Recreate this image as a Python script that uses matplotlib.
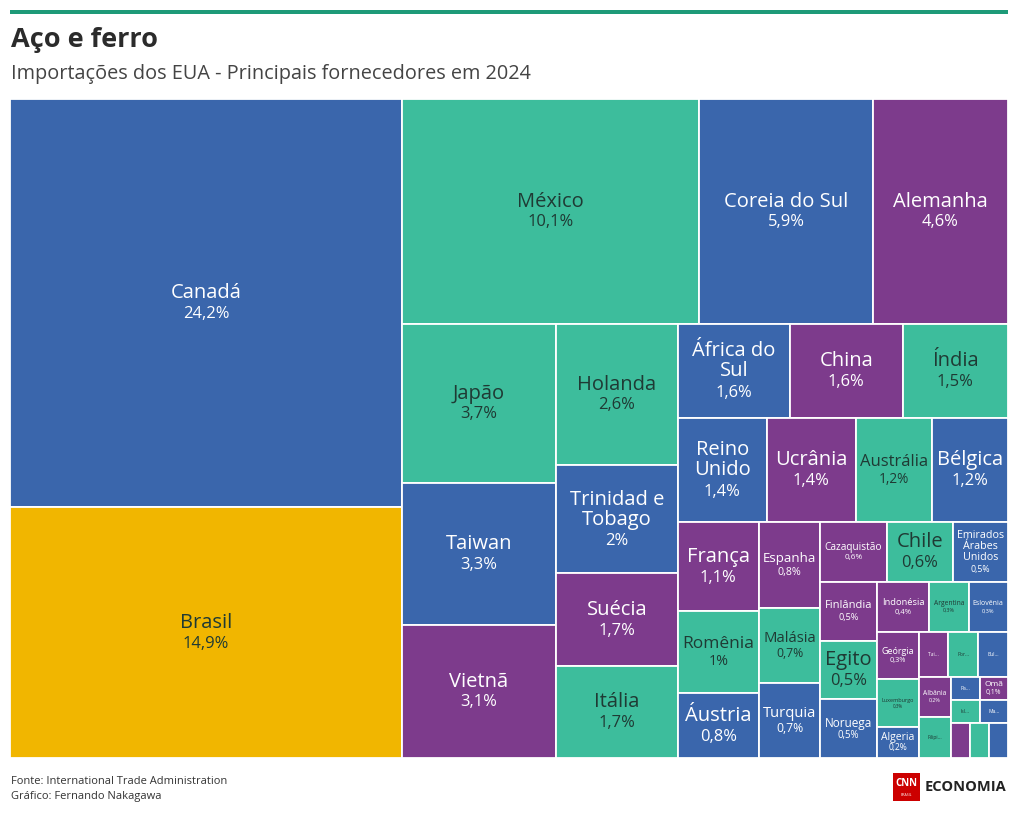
import matplotlib
matplotlib.use("Agg")
import matplotlib.pyplot as plt
from matplotlib.patches import Rectangle
from matplotlib.font_manager import FontProperties
import numpy as np

# Data: share of US steel & iron imports, 2024 (%)
countries = ["Canadá", "Brasil", "México", "Coreia do Sul", "Alemanha", "Japão", "Taiwan", "Vietnã",
             "Holanda", "Trinidad e Tobago", "Suécia", "Itália", "África do Sul", "China", "Índia",
             "Reino Unido", "Ucrânia", "Austrália", "Bélgica", "França", "Romênia", "Áustria",
             "Espanha", "Malásia", "Turquia", "Cazaquistão", "Chile", "Emirados Árabes Unidos",
             "Finlândia", "Egito", "Noruega", "Indonésia", "Argentina", "Eslovênia", "Geórgia",
             "Luxemburgo", "Algeria", "Tai...", "Por...", "Bul...", "Albânia", "Filipi...",
             "Pa...", "Omã", "Isl...", "Ma...", "", "", ""]
shares = [24.2, 14.9, 10.1, 5.9, 4.6, 3.7, 3.3, 3.1,
          2.6, 2.0, 1.7, 1.7, 1.6, 1.6, 1.5,
          1.4, 1.4, 1.2, 1.2, 1.1, 1.0, 0.8,
          0.8, 0.7, 0.7, 0.6, 0.6, 0.5,
          0.5, 0.5, 0.5, 0.4, 0.3, 0.3, 0.3,
          0.3, 0.2, 0.2, 0.2, 0.2, 0.2, 0.2,
          0.1, 0.1, 0.1, 0.1, 0.1, 0.1, 0.1]
highlight = "Brasil"

BLUE, PURPLE, TEAL, YELLOW = "#3a66ac", "#7d3b8c", "#3dbd9c", "#f1b600"
palette = [BLUE, PURPLE, TEAL]
DARK_TEXT = "#1f3a34"
FONT = "Open Sans"


def squarify(values, x0, y0, x1, y1, ratio=1.0):
    # same row logic as d3.treemapSquarify
    rects = []
    n = len(values)
    total = float(sum(values))
    i0 = i1 = 0
    while i0 < n:
        dx, dy = x1 - x0, y1 - y0
        s = values[i1]
        i1 += 1
        mn = mx = s
        alpha = max(dy / dx, dx / dy) / (total * ratio)
        beta = s * s * alpha
        min_ratio = max(mx / beta, beta / mn)
        while i1 < n:
            v = values[i1]
            s += v
            mn, mx = min(mn, v), max(mx, v)
            beta = s * s * alpha
            new_ratio = max(mx / beta, beta / mn)
            if new_ratio > min_ratio:
                s -= v
                break
            min_ratio = new_ratio
            i1 += 1
        row = values[i0:i1]
        if dx < dy:
            yy = y0 + dy * s / total
            xx = x0
            for v in row:
                w = dx * v / s
                rects.append((xx, y0, w, yy - y0))
                xx += w
            y0 = yy
        else:
            xx = x0 + dx * s / total
            yy = y0
            for v in row:
                h = dy * v / s
                rects.append((x0, yy, xx - x0, h))
                yy += h
            x0 = xx
        total -= s
        i0 = i1
    return rects


W, H = 998, 659
fig = plt.figure(figsize=(10.2, 8.14), dpi=100)
ax = fig.add_axes([10 / 1020, (814 - 758) / 814, W / 1020, H / 814])
ax.set_xlim(0, W)
ax.set_ylim(H, 0)
ax.axis("off")

renderer = fig.canvas.get_renderer()


def text_w(s, size):
    w, h, d = renderer.get_text_width_height_descent(s, FontProperties(family=FONT, size=size), ismath=False)
    return w


def wrap(name, size, maxw):
    lines, cur = [], ""
    for word in name.split():
        t = word if not cur else cur + " " + word
        if not cur or text_w(t, size) <= maxw:
            cur = t
        else:
            lines.append(cur)
            cur = word
    lines.append(cur)
    return lines


def fmt(v):
    s = f"{v:.1f}".rstrip("0").rstrip(".")
    return s.replace(".", ",") + "%"


rects = squarify(shares, 0, 0, W, H)

for i, (name, val, (x, y, w, h)) in enumerate(zip(countries, shares, rects)):
    color = YELLOW if name == highlight else palette[i % 3]
    ax.add_patch(Rectangle((x, y), w, h, facecolor=color, edgecolor="white", linewidth=1.3))
    if not name:
        continue
    tcolor = DARK_TEXT if color in (TEAL, YELLOW) else "white"
    cx, cy = x + w / 2, y + h / 2
    maxw, maxh = w - 8, h - 6
    if name.endswith("..."):
        ax.text(cx, cy, name, ha="center", va="center", fontsize=3.6, family=FONT, color=tcolor)
        continue
    placed = False
    for size in np.arange(14.5, 3.4, -0.25):
        px = size * 100 / 72
        lines = wrap(name, size, maxw)
        pct = fmt(val)
        name_h = len(lines) * px * 1.1
        pct_h = 0.82 * px * 1.15
        if max(text_w(l, size) for l in lines) <= maxw and text_w(pct, size * 0.82) <= maxw \
                and name_h + pct_h <= maxh:
            top = cy - (name_h + pct_h) / 2
            ax.text(cx, top + name_h / 2, "\n".join(lines), ha="center", va="center",
                    fontsize=size, family=FONT, color=tcolor, linespacing=1.0)
            ax.text(cx, top + name_h + pct_h / 2, pct, ha="center", va="center",
                    fontsize=size * 0.82, family=FONT, color=tcolor)
            placed = True
            break
    if not placed:
        ax.text(cx, cy, name, ha="center", va="center", fontsize=3.6, family=FONT, color=tcolor)

# header
fig.add_artist(Rectangle((10 / 1020, 1 - 14 / 814), 998 / 1020, 4 / 814, transform=fig.transFigure,
                         facecolor="#1e9a78", edgecolor="none"))
fig.text(11 / 1020, 1 - 40 / 814, "Aço e ferro", fontsize=19.5, fontweight="bold", family=FONT,
         color="#2b2b2b", va="center")
fig.text(11 / 1020, 1 - 74 / 814, "Importações dos EUA - Principais fornecedores em 2024", fontsize=14.3,
         family=FONT, color="#444444", va="center")

# footer
fig.text(11 / 1020, 1 - 781 / 814, "Fonte: International Trade Administration", fontsize=8,
         family=FONT, color="#333333", va="center")
fig.text(11 / 1020, 1 - 796 / 814, "Gráfico: Fernando Nakagawa", fontsize=8,
         family=FONT, color="#333333", va="center")

# logo
fig.add_artist(Rectangle((893 / 1020, 1 - 801 / 814), 27 / 1020, 28 / 814, transform=fig.transFigure,
                         facecolor="#cc0000", edgecolor="none"))
fig.text(906.5 / 1020, 1 - 784 / 814, "CNN", fontsize=7, fontweight="bold", family=FONT,
         color="white", ha="center", va="center")
fig.text(906.5 / 1020, 1 - 795 / 814, "BRASIL", fontsize=2.5, family=FONT,
         color="white", ha="center", va="center")
fig.text(925 / 1020, 1 - 787 / 814, "ECONOMIA", fontsize=10.5, fontweight="bold", family=FONT,
         color="#222222", va="center")

fig.savefig("out.png", dpi=100)
